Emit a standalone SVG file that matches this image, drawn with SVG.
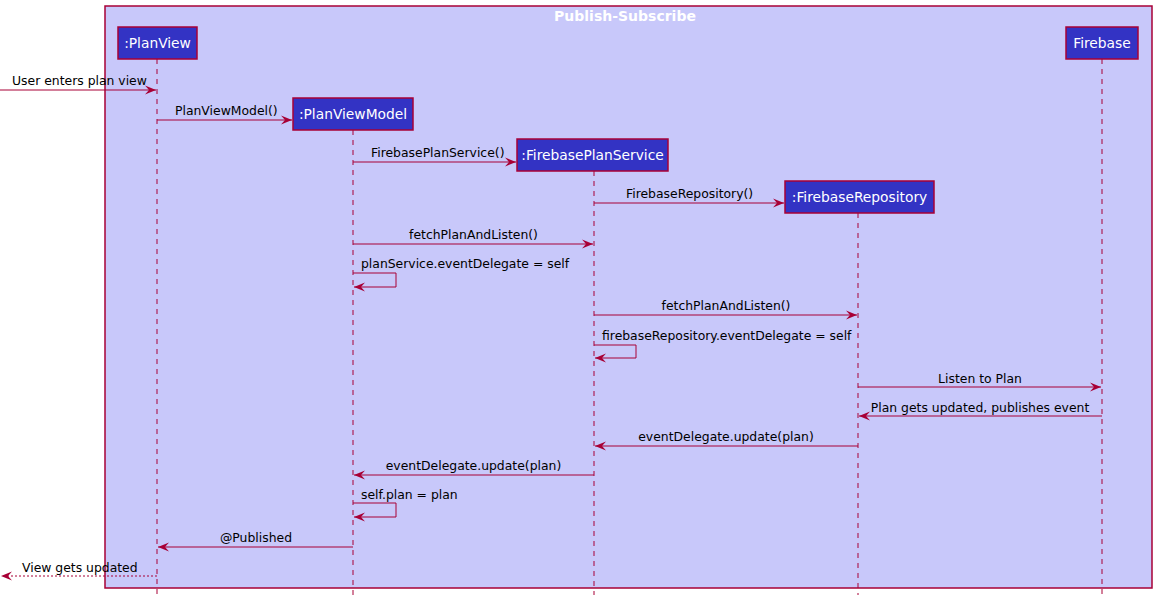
<svg xmlns="http://www.w3.org/2000/svg" width="1157" height="600" viewBox="0 0 1157 600">
<defs>
<marker id="ah" viewBox="0 0 12 10" refX="11" refY="5" markerWidth="12" markerHeight="10" markerUnits="userSpaceOnUse" orient="auto">
<polygon points="0,0.5 11,5 0,9.5 4,5" fill="#A80036"/>
</marker>
</defs>
<style>
.frame{fill:#C8C8FA;stroke:#A80036;stroke-width:1.5}
.title{font-family:"DejaVu Sans",sans-serif;font-size:14px;font-weight:bold;fill:#FFFFFF}
.box{fill:#3333C4;stroke:#A80036;stroke-width:1.5}
.pt{font-family:"DejaVu Sans",sans-serif;font-size:13.8px;fill:#FFFFFF}
.life{stroke:#A80036;stroke-width:1;stroke-dasharray:5,5;fill:none}
.msg{stroke:#A80036;stroke-width:1;fill:none}
.dot{stroke:#A80036;stroke-width:1;fill:none;stroke-dasharray:2,2}
.ml{font-family:"DejaVu Sans",sans-serif;font-size:12.4px;fill:#000000}
</style>
<rect class="frame" x="105" y="6" width="1047" height="582"/>
<text class="title" x="625" y="21" text-anchor="middle">Publish-Subscribe</text>
<g id="lifelines">
<line class="life" x1="157" y1="59" x2="157" y2="595"/>
<line class="life" x1="353" y1="130" x2="353" y2="595"/>
<line class="life" x1="594" y1="171" x2="594" y2="595"/>
<line class="life" x1="858" y1="213" x2="858" y2="595"/>
<line class="life" x1="1102" y1="59" x2="1102" y2="595"/>
</g>
<g id="PlanView"><rect class="box" x="118" y="27" width="79" height="32"/><text class="pt" x="157.5" y="48" text-anchor="middle">:PlanView</text></g>
<g id="PlanViewModel"><rect class="box" x="293" y="98" width="120" height="32"/><text class="pt" x="353" y="119" text-anchor="middle">:PlanViewModel</text></g>
<g id="FirebasePlanService"><rect class="box" x="517" y="139" width="151" height="32"/><text class="pt" x="592.5" y="160" text-anchor="middle">:FirebasePlanService</text></g>
<g id="FirebaseRepository"><rect class="box" x="785" y="181" width="149" height="32"/><text class="pt" x="859.5" y="202" text-anchor="middle">:FirebaseRepository</text></g>
<g id="Firebase"><rect class="box" x="1066" y="27" width="72" height="32"/><text class="pt" x="1102" y="48" text-anchor="middle">Firebase</text></g>
<g id="connectors">
<line class="msg" x1="0" y1="90" x2="156" y2="90" marker-end="url(#ah)"/>
<line class="msg" x1="157" y1="120" x2="292" y2="120" marker-end="url(#ah)"/>
<line class="msg" x1="353" y1="162" x2="516" y2="162" marker-end="url(#ah)"/>
<line class="msg" x1="594" y1="203" x2="784" y2="203" marker-end="url(#ah)"/>
<line class="msg" x1="353" y1="244" x2="593" y2="244" marker-end="url(#ah)"/>
<polyline class="msg" points="353,273 396,273 396,287 354,287" marker-end="url(#ah)"/>
<line class="msg" x1="594" y1="315" x2="857" y2="315" marker-end="url(#ah)"/>
<polyline class="msg" points="594,345 636,345 636,358 595,358" marker-end="url(#ah)"/>
<line class="msg" x1="858" y1="387" x2="1101" y2="387" marker-end="url(#ah)"/>
<line class="msg" x1="1102" y1="416" x2="859" y2="416" marker-end="url(#ah)"/>
<line class="msg" x1="858" y1="446" x2="595" y2="446" marker-end="url(#ah)"/>
<line class="msg" x1="594" y1="475" x2="354" y2="475" marker-end="url(#ah)"/>
<polyline class="msg" points="353,503 396,503 396,517 354,517" marker-end="url(#ah)"/>
<line class="msg" x1="353" y1="547" x2="158" y2="547" marker-end="url(#ah)"/>
<line class="dot" x1="157" y1="576" x2="1" y2="576" marker-end="url(#ah)"/>
</g>
<g id="labels">
<text class="ml" x="12" y="85">User enters plan view</text>
<text class="ml" x="175" y="115">PlanViewModel()</text>
<text class="ml" x="371" y="157">FirebasePlanService()</text>
<text class="ml" x="626" y="198">FirebaseRepository()</text>
<text class="ml" x="473.5" y="239" text-anchor="middle">fetchPlanAndListen()</text>
<text class="ml" x="361" y="268">planService.eventDelegate = self</text>
<text class="ml" x="726" y="310" text-anchor="middle">fetchPlanAndListen()</text>
<text class="ml" x="602" y="340">firebaseRepository.eventDelegate = self</text>
<text class="ml" x="980" y="383" text-anchor="middle">Listen to Plan</text>
<text class="ml" x="980" y="412" text-anchor="middle">Plan gets updated, publishes event</text>
<text class="ml" x="726" y="441" text-anchor="middle">eventDelegate.update(plan)</text>
<text class="ml" x="473.5" y="470" text-anchor="middle">eventDelegate.update(plan)</text>
<text class="ml" x="361" y="499">self.plan = plan</text>
<text class="ml" x="256" y="542" text-anchor="middle">@Published</text>
<text class="ml" x="22" y="572">View gets updated</text>
</g>
</svg>
